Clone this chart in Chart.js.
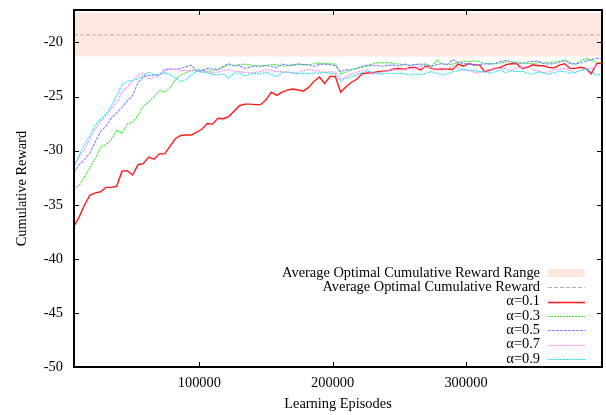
<!DOCTYPE html>
<html>
<head>
<meta charset="utf-8">
<script src="https://cdn.jsdelivr.net/npm/chart.js@4/dist/chart.umd.min.js"></script>
<style>
html,body{margin:0;padding:0;background:#fff;}
#wrap{width:606px;height:415px;position:relative;}
</style>
</head>
<body>
<div id="wrap"><canvas id="c" width="606" height="415"></canvas></div>
<script>
const episodes = [6000,10000,14000,18000,22000,26000,30000,34000,38000,42000,
46000,50000,54000,58000,62000,66000,70000,74000,78000,82000,
86000,90000,94000,98000,102000,106000,110000,114000,118000,122000,
126000,130000,134000,138000,142000,146000,150000,154000,158000,162000,
166000,170000,174000,178000,182000,186000,190000,194000,198000,202000,
206000,210000,214000,218000,222000,226000,230000,234000,238000,242000,
246000,250000,254000,258000,262000,266000,270000,274000,278000,282000,
286000,290000,294000,298000,302000,306000,310000,314000,318000,322000,
326000,330000,334000,338000,342000,346000,350000,354000,358000,362000,
366000,370000,374000,378000,382000,386000,390000,394000,398000,402000];

const alpha01 = [
-37.0,-36.1,-35.0,-34.1,-33.9,-33.8,-33.4,-33.4,-33.3,-31.9,
-31.85,-32.25,-31.3,-31.2,-30.6,-30.8,-30.3,-30.3,-29.6,-28.9,
-28.6,-28.55,-28.55,-28.3,-28.0,-27.5,-27.55,-27.0,-27.05,-26.85,
-26.35,-25.85,-25.7,-25.7,-25.75,-25.75,-25.3,-24.6,-24.9,-24.6,
-24.4,-24.3,-24.4,-24.5,-24.15,-23.6,-23.2,-23.8,-23.15,-23.15,
-24.6,-24.1,-23.7,-23.4,-22.9,-22.83,-22.8,-22.7,-22.65,-22.6,
-22.45,-22.4,-22.5,-22.3,-22.3,-22.55,-22.15,-22.4,-22.5,-22.45,
-22.45,-22.5,-22.0,-22.2,-21.95,-22.07,-22.07,-22.7,-22.55,-22.4,
-22.3,-22.05,-21.97,-21.97,-22.4,-22.3,-22.07,-22.15,-22.15,-22.3,
-22.35,-22.1,-21.97,-22.4,-22.4,-22.3,-22.4,-22.9,-21.95,-21.9];

const alpha03 = [
-33.5,-33.2,-32.4,-31.6,-30.7,-29.65,-29.45,-29.0,-28.1,-28.4,
-27.55,-27.35,-26.75,-25.9,-25.5,-25.0,-24.45,-24.6,-24.2,-23.45,
-23.0,-22.8,-22.6,-22.5,-22.55,-22.7,-22.6,-22.5,-22.3,-22.05,
-22.15,-22.05,-22.0,-22.1,-22.2,-22.2,-22.15,-22.05,-22.05,-22.2,
-22.15,-22.05,-22.05,-22.05,-22.05,-21.97,-21.9,-21.95,-21.97,-22.0,
-22.95,-22.7,-22.5,-22.4,-22.3,-22.2,-21.97,-21.85,-21.9,-21.85,
-21.95,-22.0,-22.05,-22.1,-22.05,-21.97,-22.1,-22.25,-21.65,-21.97,
-22.05,-22.0,-21.85,-21.76,-21.76,-21.7,-21.76,-21.97,-21.95,-21.97,
-21.9,-21.8,-21.76,-21.85,-21.9,-21.95,-21.95,-21.85,-21.9,-21.85,
-21.8,-21.75,-21.6,-21.85,-22.05,-21.7,-21.45,-21.65,-21.85,-21.85];

const alpha05 = [
-32.0,-31.3,-30.8,-30.2,-29.2,-28.2,-27.75,-27.0,-26.5,-26.0,
-25.4,-24.9,-23.7,-23.2,-23.05,-23.0,-23.0,-22.5,-22.45,-22.5,
-22.4,-22.25,-22.1,-22.65,-22.6,-22.4,-22.45,-22.5,-22.2,-21.97,
-22.15,-22.15,-22.4,-22.3,-22.15,-22.2,-22.1,-22.25,-22.3,-22.0,
-22.1,-22.15,-21.97,-22.05,-22.05,-22.2,-22.05,-22.0,-22.05,-22.15,
-22.7,-22.5,-22.55,-22.4,-22.2,-22.1,-22.1,-22.15,-22.2,-22.1,
-22.1,-22.15,-22.0,-22.15,-22.0,-22.1,-21.97,-22.2,-22.05,-21.97,
-22.05,-21.6,-21.85,-21.95,-22.0,-22.1,-22.05,-21.97,-22.0,-21.95,
-21.75,-21.67,-21.8,-21.9,-21.95,-21.8,-21.75,-21.7,-21.95,-22.0,
-21.95,-21.85,-21.65,-21.95,-21.97,-21.9,-21.7,-21.6,-21.45,-21.5];

const alpha07 = [
-31.3,-30.6,-29.9,-28.9,-28.0,-27.3,-26.8,-26.1,-25.6,-24.6,
-24.1,-23.6,-23.0,-22.8,-23.4,-23.2,-23.05,-22.7,-22.4,-22.5,
-22.6,-22.6,-22.6,-22.65,-22.7,-22.7,-22.8,-22.7,-22.6,-22.5,
-22.65,-22.7,-22.8,-22.8,-22.75,-22.7,-22.5,-22.6,-22.7,-22.7,
-22.75,-22.8,-22.75,-22.6,-22.5,-22.6,-22.65,-22.75,-22.7,-22.75,
-23.4,-23.15,-22.9,-22.75,-22.6,-22.5,-22.95,-22.8,-22.7,-22.6,
-22.5,-22.55,-22.45,-22.37,-22.5,-22.25,-22.35,-22.3,-22.5,-22.35,
-22.45,-22.2,-22.4,-22.5,-22.6,-22.75,-22.83,-22.6,-22.5,-22.45,
-22.4,-22.4,-22.65,-22.3,-22.35,-22.2,-22.5,-22.6,-22.8,-22.7,
-22.55,-22.45,-22.4,-22.6,-22.8,-22.55,-22.45,-22.4,-22.2,-22.2];

const alpha09 = [
-31.5,-30.4,-29.4,-28.6,-27.6,-27.1,-26.6,-25.9,-24.9,-23.9,
-23.6,-23.5,-23.35,-23.1,-22.75,-23.0,-22.95,-22.8,-22.95,-23.3,
-23.6,-23.45,-23.0,-22.65,-22.75,-22.8,-22.95,-23.0,-22.9,-23.3,
-22.8,-22.85,-23.1,-22.9,-22.85,-22.9,-22.75,-23.0,-23.15,-22.8,
-22.7,-22.85,-22.9,-22.85,-22.9,-22.8,-22.85,-22.75,-22.85,-22.9,
-23.6,-23.3,-23.2,-23.0,-22.8,-22.65,-22.75,-22.9,-22.9,-22.85,
-22.9,-22.85,-22.9,-23.0,-22.9,-23.0,-22.85,-22.7,-22.85,-23.0,
-22.9,-22.7,-22.6,-22.5,-22.6,-22.55,-22.7,-22.7,-22.85,-22.7,
-22.55,-22.8,-22.6,-22.7,-22.65,-22.85,-22.95,-22.7,-22.8,-22.95,
-22.8,-22.65,-22.7,-22.85,-22.75,-22.6,-22.45,-22.7,-23.0,-23.0];

const optimalRange = [-21.3, -17.25];   // [low, high]
const optimalAverage = [-19.3];
const xRange = [6000, 402000];
const yRange = [-50, -17];
const xTickValues = [100000, 200000, 300000];
const yTickValues = [-50, -45, -40, -35, -30, -25, -20];
const legendLabels = ["Average Optimal Cumulative Reward Range", "Average Optimal Cumulative Reward",
  "\u03b1=0.1", "\u03b1=0.3", "\u03b1=0.5", "\u03b1=0.7", "\u03b1=0.9"];

const FONT = "'Liberation Serif','Times New Roman',serif";
const FS = 14.4;

function pts(arr) { return episodes.map((e, i) => ({x: e, y: arr[i]})); }
function flat(v) { return [{x: xRange[0], y: v}, {x: xRange[1], y: v}]; }

const seriesStyles = [
  {data: alpha01, color: '#ff1a1a', width: 1.4, dash: []},
  {data: alpha03, color: '#30e830', width: 1.1, dash: [2, 1]},
  {data: alpha05, color: '#8585ff', width: 1.1, dash: [3, 1]},
  {data: alpha07, color: '#ff8cff', width: 1.1, dash: [2, 1]},
  {data: alpha09, color: '#20e0f4', width: 1.1, dash: [2, 1]}
];

const datasets = [];
datasets.push({
  label: legendLabels[0], data: flat(optimalRange[1]),
  borderWidth: 0, borderColor: 'rgba(0,0,0,0)', backgroundColor: '#fde8df',
  fill: {value: optimalRange[0]}, pointRadius: 0, order: 10
});
datasets.push({
  label: legendLabels[1], data: flat(optimalAverage[0]),
  borderWidth: 1, borderColor: '#b4aaaa', borderDash: [4, 2], fill: false, pointRadius: 0, order: 9
});
seriesStyles.forEach((s, k) => {
  datasets.push({
    label: legendLabels[k + 2], data: pts(s.data), borderColor: s.color, borderWidth: s.width,
    borderDash: s.dash, fill: false, pointRadius: 0, tension: 0, order: 8 - k
  });
});

const framePlugin = {
  id: 'frame',
  afterDatasetsDraw(chart) {
    const {ctx, chartArea: a, scales} = chart;
    ctx.save();
    ctx.strokeStyle = '#000';
    ctx.lineWidth = 1;
    ctx.beginPath();
    yTickValues.forEach(v => {
      const y = Math.round(scales.y.getPixelForValue(v)) + 0.5;
      ctx.moveTo(a.left, y); ctx.lineTo(a.left + 5, y);
      ctx.moveTo(a.right, y); ctx.lineTo(a.right - 5, y);
    });
    xTickValues.forEach(v => {
      const x = Math.round(scales.x.getPixelForValue(v)) + 0.5;
      ctx.moveTo(x, a.bottom); ctx.lineTo(x, a.bottom - 5);
      ctx.moveTo(x, a.top); ctx.lineTo(x, a.top + 5);
    });
    ctx.stroke();
    // legend
    ctx.font = FS + 'px ' + FONT;
    ctx.textAlign = 'right';
    ctx.textBaseline = 'middle';
    ctx.fillStyle = '#000';
    const tx = 540, sx0 = 548, sx1 = 585, y0 = 273, dy = 14.3;
    chart.data.datasets.forEach((d, i) => {
      const y = y0 + i * dy;
      ctx.fillText(d.label, tx, y);
      if (i === 0) {
        ctx.fillStyle = d.backgroundColor;
        ctx.fillRect(sx0, y - 4, sx1 - sx0, 8);
        ctx.fillStyle = '#000';
      } else {
        ctx.save();
        ctx.strokeStyle = d.borderColor;
        ctx.lineWidth = d.borderWidth;
        ctx.setLineDash(d.borderDash || []);
        ctx.beginPath();
        ctx.moveTo(sx0, Math.round(y) + 0.5); ctx.lineTo(sx1, Math.round(y) + 0.5);
        ctx.stroke();
        ctx.restore();
      }
    });
    ctx.lineWidth = 2;
    ctx.strokeStyle = '#000';
    ctx.strokeRect(a.left, a.top, a.right - a.left, a.bottom - a.top);
    ctx.restore();
  }
};

new Chart(document.getElementById('c'), {
  type: 'line',
  data: {datasets},
  options: {
    responsive: false,
    animation: false,
    devicePixelRatio: 1,
    layout: {padding: {left: 0, right: 4, top: 10, bottom: 0}},
    plugins: {legend: {display: false}, tooltip: {enabled: false}},
    scales: {
      x: {
        type: 'linear', min: xRange[0], max: xRange[1],
        afterBuildTicks: s => { s.ticks = xTickValues.map(v => ({value: v})); },
        afterFit: s => { s.height = 48; s.paddingLeft = 0; s.paddingRight = 0; },
        grid: {display: false, drawTicks: false},
        border: {display: false},
        ticks: {color: '#000', font: {family: FONT, size: FS}, padding: 8, maxRotation: 0,
          callback: v => String(v)},
        title: {display: true, text: 'Learning Episodes', color: '#000',
          font: {family: FONT, size: FS}, padding: {top: 0, bottom: 2}}
      },
      y: {
        type: 'linear', min: yRange[0], max: yRange[1],
        afterBuildTicks: s => { s.ticks = yTickValues.map(v => ({value: v})); },
        afterFit: s => { s.width = 74; s.paddingTop = 0; s.paddingBottom = 0; },
        grid: {display: false, drawTicks: false},
        border: {display: false},
        ticks: {color: '#000', font: {family: FONT, size: FS}, padding: 11,
          callback: v => String(v)},
        title: {display: true, text: 'Cumulative Reward', color: '#000',
          font: {family: FONT, size: FS}, padding: {top: 14, bottom: 0}}
      }
    }
  },
  plugins: [framePlugin]
});
</script>
</body>
</html>
